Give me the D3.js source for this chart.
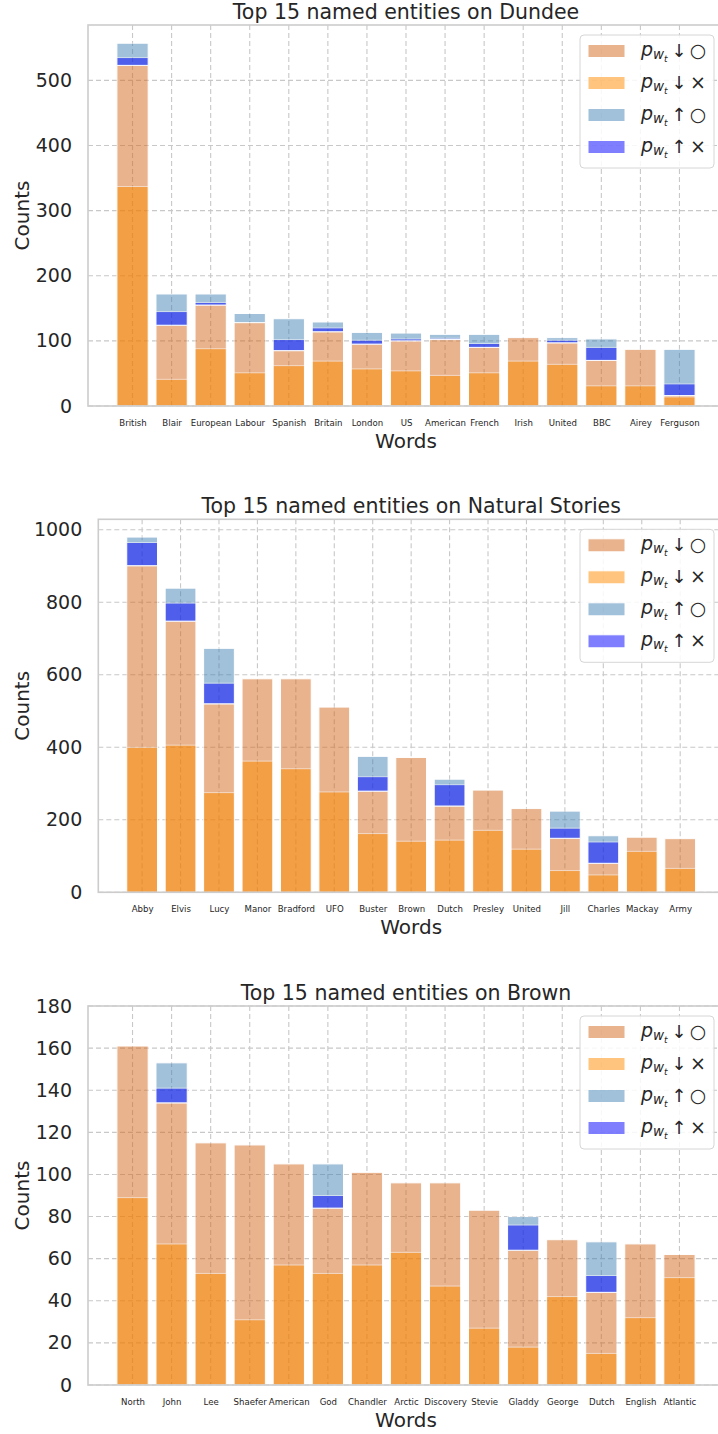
<!DOCTYPE html>
<html>
<head>
<meta charset="utf-8">
<script src="https://cdn.jsdelivr.net/npm/d3@7"></script>
<style>
  body { margin: 0; background: #fff; }
  svg { display: block; font-family: "DejaVu Sans", sans-serif; }
</style>
</head>
<body>
<svg id="plate" width="718" height="1434"></svg>
<script>
// --- Dundee ---
var dundeeWords = ['British', 'Blair', 'European', 'Labour', 'Spanish', 'Britain', 'London', 'US',
    'American', 'French', 'Irish', 'United', 'BBC', 'Airey', 'Ferguson'];
var dundeeDownCross = [337, 41, 88, 51, 62, 69, 57, 54, 47, 51, 69, 64, 31, 31, 14];
var dundeeDownCircle = [186, 83, 67, 77, 23, 45, 38, 46, 55, 39, 36, 33, 39, 56, 2];
var dundeeUpCross = [12, 21, 4, 0, 17, 6, 6, 3, 2, 6, 0, 4, 20, 0, 18];
var dundeeUpCircle = [22, 27, 13, 14, 32, 9, 12, 9, 6, 14, 0, 4, 13, 0, 53];
var dundeeTicks = [0, 100, 200, 300, 400, 500];

// --- Natural Stories ---
var naturalWords = ['Abby', 'Elvis', 'Lucy', 'Manor', 'Bradford', 'UFO', 'Buster', 'Brown',
    'Dutch', 'Presley', 'United', 'Jill', 'Charles', 'Mackay', 'Army'];
var naturalDownCross = [400, 406, 275, 362, 341, 277, 162, 141, 144, 171, 119, 60, 48, 113, 66];
var naturalDownCircle = [501, 342, 245, 227, 248, 234, 117, 231, 94, 111, 112, 89, 32, 39, 82];
var naturalUpCross = [64, 50, 57, 0, 0, 0, 40, 0, 59, 0, 0, 28, 59, 0, 0];
var naturalUpCircle = [15, 41, 96, 0, 0, 0, 56, 0, 15, 0, 0, 47, 17, 0, 0];
var naturalTicks = [0, 200, 400, 600, 800, 1000];

// --- Brown ---
var brownWords = ['North', 'John', 'Lee', 'Shaefer', 'American', 'God', 'Chandler', 'Arctic',
    'Discovery', 'Stevie', 'Gladdy', 'George', 'Dutch', 'English', 'Atlantic'];
var brownDownCross = [89, 67, 53, 31, 57, 53, 57, 63, 47, 27, 18, 42, 15, 32, 51];
var brownDownCircle = [72, 67, 62, 83, 48, 31, 44, 33, 49, 56, 46, 27, 29, 35, 11];
var brownUpCross = [0, 7, 0, 0, 0, 6, 0, 0, 0, 0, 12, 0, 8, 0, 0];
var brownUpCircle = [0, 12, 0, 0, 0, 15, 0, 0, 0, 0, 4, 0, 16, 0, 0];
var brownTicks = [0, 20, 40, 60, 80, 100, 120, 140, 160, 180];

var legendSymbols = [['\u2193', '\u25CB'], ['\u2193', '\u00D7'], ['\u2191', '\u25CB'], ['\u2191', '\u00D7']];
var legendColors = ['#D2691E', '#FF8C00', '#4682B4', '#0000FF'];
var ink = '#262626';

var svg = d3.select('#plate');

function drawChart(opt) {
    var g = svg.append('g');
    var n = opt.words.length;
    var x = d3.scaleLinear().domain([-1.14, n - 1 + 1.14]).range([opt.left, opt.right]);
    var y = d3.scaleLinear().domain([0, opt.yMax]).range([opt.bottom, opt.top]);
    var bw = x(0.8) - x(0);

    // grid
    g.append('g').selectAll('line').data(opt.ticks).enter().append('line')
        .attr('x1', opt.left).attr('x2', opt.right)
        .attr('y1', function(d) { return y(d); }).attr('y2', function(d) { return y(d); })
        .attr('stroke', '#c8c8c8').attr('stroke-width', 1.1).attr('stroke-dasharray', '5,3');
    g.append('g').selectAll('line').data(d3.range(n)).enter().append('line')
        .attr('x1', function(d) { return x(d); }).attr('x2', function(d) { return x(d); })
        .attr('y1', opt.top).attr('y2', opt.bottom)
        .attr('stroke', '#c8c8c8').attr('stroke-width', 1.1).attr('stroke-dasharray', '5,3');

    // bars: the two "down" bars overlap from 0, the two "up" bars overlap from the down total
    var rows = d3.range(n).map(function(i) {
        var dc = opt.downCross[i], dt = dc + opt.downCircle[i];
        var ux = opt.upCross[i], tot = dt + ux + opt.upCircle[i];
        return {i: i, segs: [[0, dt, 0], [0, dc, 1], [dt, tot, 2], [dt, dt + ux, 3]]};
    });
    var barG = g.append('g');
    rows.forEach(function(r) {
        barG.selectAll(null).data(r.segs.filter(function(s) { return s[1] > s[0]; }))
            .enter().append('rect')
            .attr('x', x(r.i) - bw / 2)
            .attr('width', bw)
            .attr('y', function(s) { return y(s[1]); })
            .attr('height', function(s) { return y(s[0]) - y(s[1]); })
            .attr('fill', function(s) { return legendColors[s[2]]; })
            .attr('stroke', '#fff').attr('stroke-width', 1)
            .attr('opacity', 0.5);
    });

    // frame
    g.append('rect')
        .attr('x', opt.left).attr('y', opt.top)
        .attr('width', opt.right - opt.left).attr('height', opt.bottom - opt.top)
        .attr('fill', 'none').attr('stroke', '#cccccc').attr('stroke-width', 1.6);

    // y axis
    var yAxis = g.append('g')
        .attr('transform', 'translate(' + opt.left + ',0)')
        .call(d3.axisLeft(y).tickValues(opt.ticks).tickFormat(d3.format('d'))
            .tickSize(0).tickPadding(16));
    yAxis.select('.domain').remove();
    yAxis.selectAll('text').attr('fill', ink).style('font-size', '19px')
        .style('font-family', '"DejaVu Sans", sans-serif');

    // x axis
    var xAxis = g.append('g')
        .attr('transform', 'translate(0,' + opt.bottom + ')')
        .call(d3.axisBottom(x).tickValues(d3.range(n))
            .tickFormat(function(d) { return opt.words[d]; }).tickSize(0).tickPadding(14));
    xAxis.select('.domain').remove();
    xAxis.selectAll('text').attr('fill', ink).style('font-size', '8.6px')
        .style('font-family', '"DejaVu Sans", sans-serif');

    var cx = (opt.left + opt.right) / 2;
    g.append('text').attr('x', cx).attr('y', opt.top - 6)
        .attr('text-anchor', 'middle').attr('fill', ink).style('font-size', '20.5px')
        .text(opt.title);
    g.append('text').attr('x', cx).attr('y', opt.bottom + 42)
        .attr('text-anchor', 'middle').attr('fill', ink).style('font-size', '20px')
        .text('Words');
    g.append('text')
        .attr('transform', 'translate(29,' + ((opt.top + opt.bottom) / 2) + ') rotate(-90)')
        .attr('text-anchor', 'middle').attr('fill', ink).style('font-size', '20px')
        .text('Counts');

    // legend
    var lx = opt.right - 144, ly = opt.top + 10;
    var leg = g.append('g').attr('transform', 'translate(' + lx + ',' + ly + ')');
    leg.append('rect').attr('width', 134).attr('height', 133).attr('rx', 4)
        .attr('fill', '#fff').attr('fill-opacity', 0.85)
        .attr('stroke', '#d6d6d6').attr('stroke-width', 1);
    legendSymbols.forEach(function(sym, k) {
        var cy = 16 + k * 32;
        leg.append('rect').attr('x', 8).attr('y', cy - 6.5).attr('width', 37).attr('height', 13)
            .attr('fill', legendColors[k]).attr('opacity', 0.5)
            .attr('stroke', '#fff').attr('stroke-width', 1);
        var t = leg.append('text').attr('x', 61).attr('y', cy + 5).attr('fill', ink)
            .style('font-size', '19px');
        t.append('tspan').style('font-style', 'italic').text('p');
        t.append('tspan').style('font-style', 'italic').style('font-size', '13.5px')
            .attr('dy', 3).text('w');
        t.append('tspan').style('font-style', 'italic').style('font-size', '9px')
            .attr('dy', 3).text('t');
        leg.append('text').attr('x', 99).attr('y', cy + 6).attr('text-anchor', 'middle')
            .attr('fill', ink).style('font-size', '18px').text(sym[0]);
        leg.append('text').attr('x', 118).attr('y', cy + 6).attr('text-anchor', 'middle')
            .attr('fill', ink).style('font-size', '19px').text(sym[1]);
    });
}

drawChart({
    title: 'Top 15 named entities on Dundee',
    words: dundeeWords, downCross: dundeeDownCross, downCircle: dundeeDownCircle,
    upCross: dundeeUpCross, upCircle: dundeeUpCircle, ticks: dundeeTicks,
    yMax: 585, left: 88, right: 724, top: 25, bottom: 406
});
drawChart({
    title: 'Top 15 named entities on Natural Stories',
    words: naturalWords, downCross: naturalDownCross, downCircle: naturalDownCircle,
    upCross: naturalUpCross, upCircle: naturalUpCircle, ticks: naturalTicks,
    yMax: 1029, left: 98.3, right: 724, top: 519.3, bottom: 892.3
});
drawChart({
    title: 'Top 15 named entities on Brown',
    words: brownWords, downCross: brownDownCross, downCircle: brownDownCircle,
    upCross: brownUpCross, upCircle: brownUpCircle, ticks: brownTicks,
    yMax: 180, left: 88, right: 724, top: 1006, bottom: 1385
});
</script>
</body>
</html>
